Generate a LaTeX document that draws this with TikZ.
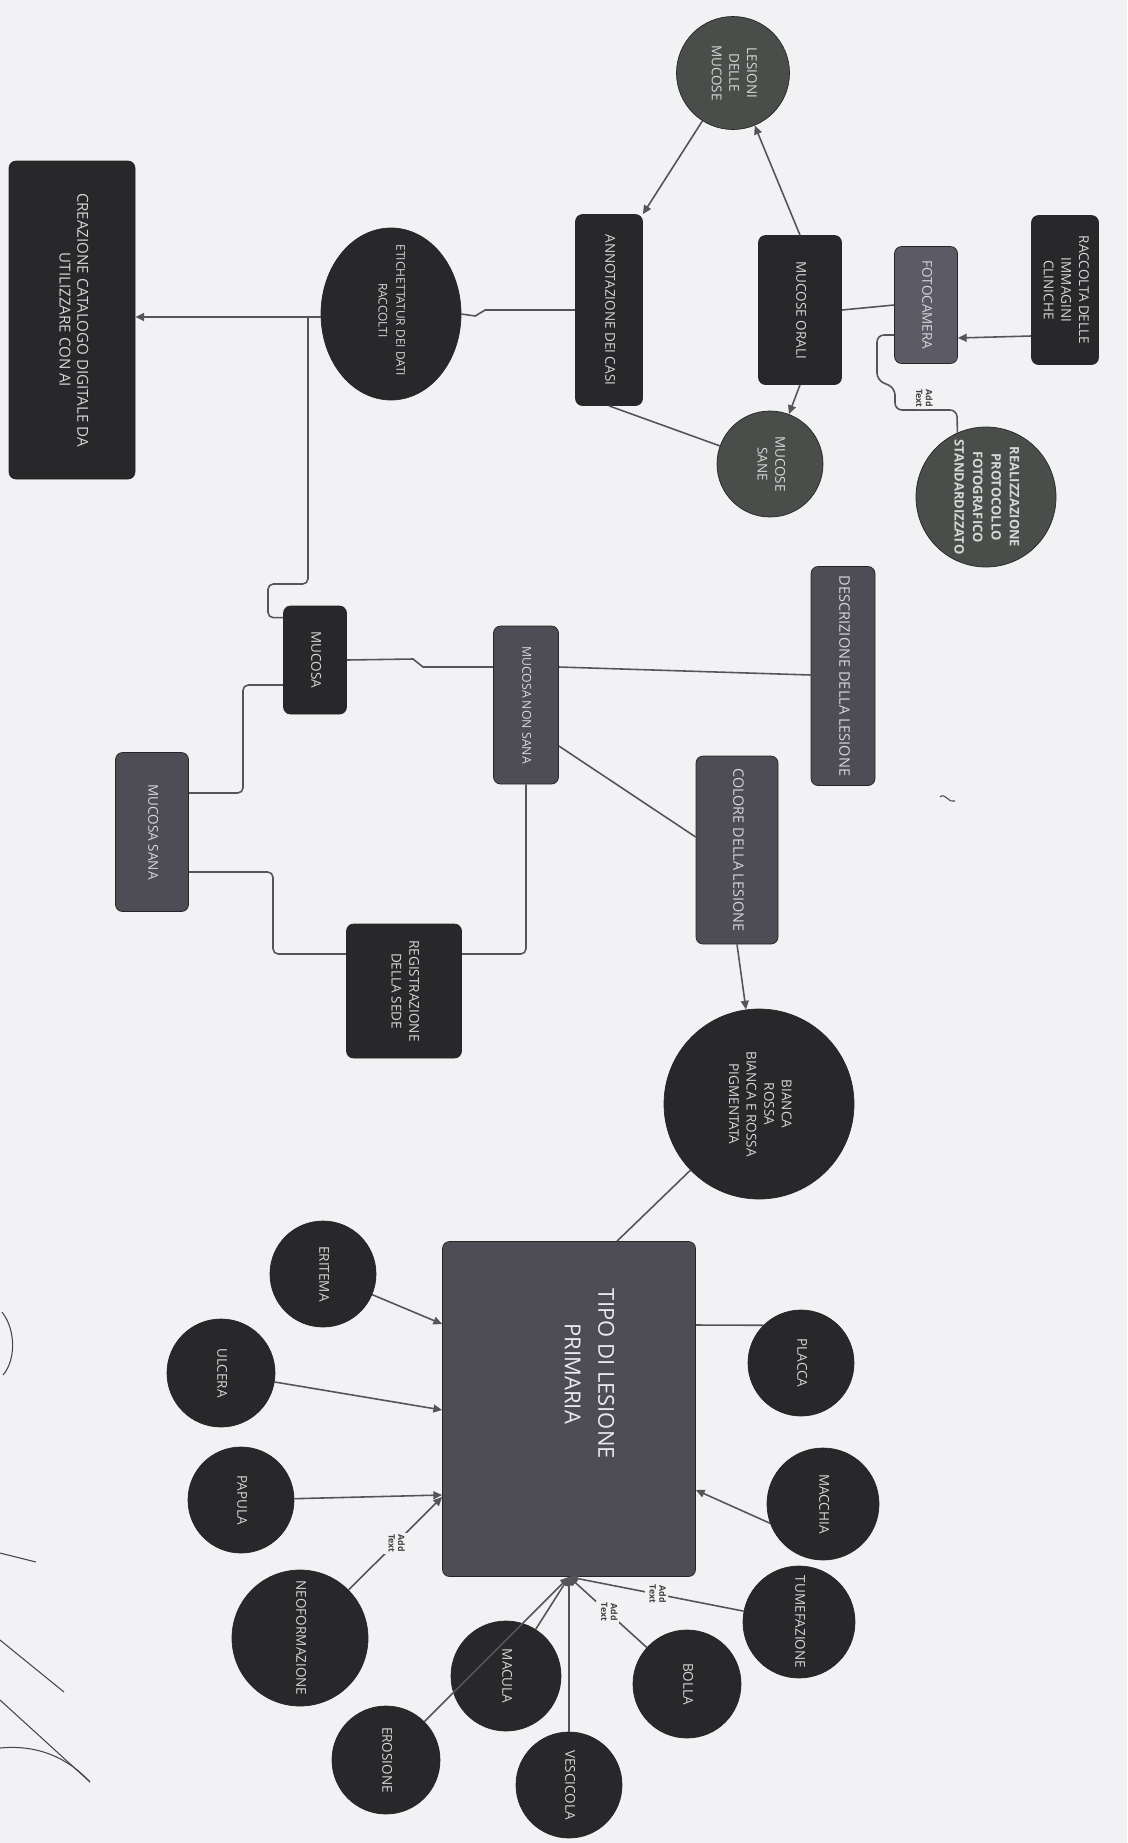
\documentclass[tikz,border=0pt]{standalone}
\usepackage{fontspec}
\setmainfont{Open Sans}
\usetikzlibrary{positioning,arrows.meta,calc,shapes.geometric}

\definecolor{bgcol}{RGB}{242,242,244}
\definecolor{darkfill}{RGB}{40,40,42}
\definecolor{grayfill}{RGB}{78,77,86}
\definecolor{mossfill}{RGB}{74,78,74}
\definecolor{camfill}{RGB}{92,90,100}
\definecolor{linecol}{RGB}{85,85,88}
\definecolor{txtcol}{RGB}{215,215,215}
\definecolor{pencol}{RGB}{70,70,75}

% text turned to read from top to bottom
\newcommand{\vtxt}[1]{\rotatebox{-90}{\begin{tabular}{@{}c@{}}#1\end{tabular}}}

\begin{document}
\begin{tikzpicture}[x=0.02cm, y=-0.02cm, % one unit = one pixel of the scan
  link/.style={draw=linecol, line width=0.9pt},
  arr/.style={link, -{Triangle[length=5pt,width=4.5pt]}},
  base/.style={text=txtcol, font=\fontsize{7.7}{10}\selectfont, inner sep=0pt, draw=black!85, line width=0.4pt},
  dbox/.style={base, rectangle, rounded corners=4pt, fill=darkfill},
  gbox/.style={base, rectangle, rounded corners=4pt, fill=grayfill},
  ddot/.style={base, circle, fill=darkfill},
  gdot/.style={base, circle, fill=mossfill},
  sz/.style 2 args={minimum width=#1*0.02cm, minimum height=#2*0.02cm},
  dia/.style={minimum size=#1*0.02cm},
  fs/.style={font=\fontsize{#1}{10}\selectfont},
  addlbl/.style={fill=bgcol, inner sep=1pt, text=black!75, font=\fontsize{5}{5.5}\selectfont\bfseries},
  pen/.style={draw=pencol, line width=0.6pt}]

\fill[bgcol] (0,0) rectangle (1127,1843);
\useasboundingbox (0,0) rectangle (1127,1843);

% Acquisition of the images and labelling
\node[dbox, fs=8.6, sz={126}{318}] (creaz) at (72,320) {\vtxt{CREAZIONE CATALOGO DIGITALE DA\\UTILIZZARE CON AI}};
\node[base, ellipse, fill=darkfill, minimum width=140*0.02cm, minimum height=172*0.02cm,
  label={[base, fs=6.8, draw=none, yshift=2pt]center:\vtxt{ETICHETTATUR DEI DATI\\RACCOLTI}}] (eti) at (391,314) {};
\node[dbox, sz={67}{191}] (annot) at (609,310) {\vtxt{ANNOTAZIONE DEI CASI}};
\node[gdot, dia=113] (lesioni) at (733,73) {\vtxt{LESIONI\\DELLE\\MUCOSE}};
\node[dbox, sz={83}{149}] (orali) at (800,310) {\vtxt{MUCOSE ORALI}};
\node[gdot, dia=106] (sane) at (770,464) {\vtxt{MUCOSE\\SANE}};
\node[gbox, fill=camfill, sz={63}{117}] (foto) at (926,305) {\vtxt{FOTOCAMERA}};
\node[dbox, sz={67}{149}] (raccolta) at (1065,290) {\vtxt{RACCOLTA DELLE\\IMMAGINI\\CLINICHE}};
\node[gdot, dia=140, font=\fontsize{7.4}{10.5}\selectfont\bfseries] (realiz) at (986,497)
  {\vtxt{REALIZZAZIONE\\PROTOCOLLO\\FOTOGRAFICO\\STANDARDIZZATO}};

% Mucosa, healthy or not
\node[dbox, sz={63}{108}] (mucosa) at (315,660) {\vtxt{MUCOSA}};
\node[gbox, fs=7, sz={65}{158}] (nonsana) at (526,705) {\vtxt{MUCOSA NON SANA}};
\node[gbox, fs=8.3, sz={64}{219}] (descr) at (843,676) {\vtxt{DESCRIZIONE DELLA LESIONE}};
\node[gbox, sz={73}{159}] (sana) at (152,832) {\vtxt{MUCOSA SANA}};
\node[gbox, fs=8.2, sz={82}{188}] (colore) at (737,850) {\vtxt{COLORE DELLA LESIONE}};
\node[dbox, sz={115}{134}] (reg) at (404,991) {\vtxt{REGISTRAZIONE\\DELLA SEDE}};
\node[ddot, dia=190] (bianca) at (759,1104) {\vtxt{BIANCA\\ROSSA\\BIANCA E ROSSA\\PIGMENTATA}};

% Primary lesion and its types
\node[gbox, sz={253}{335},
  label={[base, draw=none, text=white!92!black, font=\fontsize{12.5}{19}\selectfont, xshift=11pt, yshift=20pt]center:\vtxt{TIPO DI LESIONE\\PRIMARIA}}] (tipo) at (569,1409) {};

\foreach \nm/\px/\py/\dm/\lab in {eritema/323/1274/106/ERITEMA, ulcera/221/1373/108/ULCERA,
    papula/241/1500/106/PAPULA, neoform/300/1638/136/NEOFORMAZIONE, erosione/386/1760/108/EROSIONE,
    macula/506/1676/110/MACULA, vescicola/569/1785/106/VESCICOLA, bolla/687/1684/108/BOLLA,
    tumef/799/1622/112/TUMEFAZIONE, macchia/823/1504/112/MACCHIA, placca/801/1363/106/PLACCA} {
  \node[ddot, dia=\dm] (\nm) at (\px,\py) {\vtxt{\lab}};
}

% connectors, top
\coordinate (jn) at (308,317);
\draw[arr] (eti.west |- jn) -- (creaz.east |- jn);
\draw[link, rounded corners=3pt] ($(mucosa.north west)+(0,12)$) -| (268,584) -| (jn);
\draw[link] (annot.west) -- ++(-90,0) -- ++(-10,6) -- (eti.east);
\draw[arr] (lesioni) -- (annot.north east);
\draw[arr] (orali.north) -- (lesioni);
\draw[arr] (orali.south) -- (sane);
\draw[link] (annot.south) -- (sane);
\draw[link] (orali.east) -- (foto.west);
\draw[arr] (raccolta.west |- 0,336) -- (foto.east |- 0,338);
\draw[link, rounded corners=4pt] (foto.west |- 0,335) -- (877,335) -- (877,380) -- (895,388) -- (895,410)
  -- (957,410) node[addlbl, above, pos=0.45] {\vtxt{Add\\Text}} -- (realiz.114);

% connectors, middle
\draw[link] (mucosa.east) -- (413,659) -- (423,667) -- (nonsana.west |- 0,667);
\draw[link] (nonsana.east |- 0,667) -- (descr.west |- 0,675);
\draw[link, rounded corners=3pt] (mucosa.west |- 0,685) -| (243,793) -- (sana.east |- 0,793);
\draw[link, rounded corners=3pt] (sana.east |- 0,872) -| (273,954) -- (reg.west |- 0,954);
\draw[link, rounded corners=3pt] (nonsana.south) |- (reg.east |- 0,954);
\draw[link] (nonsana.east |- 0,746) -- (colore.west |- 0,837);
\draw[arr] (colore.south) -- (bianca);
\draw[link] (bianca) -- (tipo.north -| 617,0);

% connectors, bottom
\foreach \nm/\py in {eritema/1324, ulcera/1410, papula/1495}
  \draw[arr] (\nm) -- (tipo.west |- 0,\py);
\draw[arr] (neoform) -- node[addlbl] {\vtxt{Add\\Text}} (tipo.west |- 0,1497);
\draw[link] (tipo.east |- 0,1325) -- (placca.135);
\draw[arr] (macchia.200) -- (tipo.east |- 0,1490);
\foreach \nm in {macula, erosione, vescicola}
  \draw[arr] (\nm) -- (tipo.south);
\draw[arr] (bolla) -- node[addlbl] {\vtxt{Add\\Text}} (tipo.south);
\draw[arr] (tumef) -- node[addlbl] {\vtxt{Add\\Text}} (tipo.south);

% pen marks on the scanned sheet
\draw[pen] (2,1312) .. controls (16,1330) and (16,1360) .. (3,1375);
\draw[pen] (0,1553) -- (36,1562);
\draw[pen] (0,1640) -- (64,1692);
\draw[pen] (0,1700) -- (90,1782);
\draw[pen] (0,1748) .. controls (40,1744) and (70,1760) .. (90,1782);
\draw[pen] (940,797) .. controls (945,792) and (949,804) .. (955,801);
\end{tikzpicture}
\end{document}
